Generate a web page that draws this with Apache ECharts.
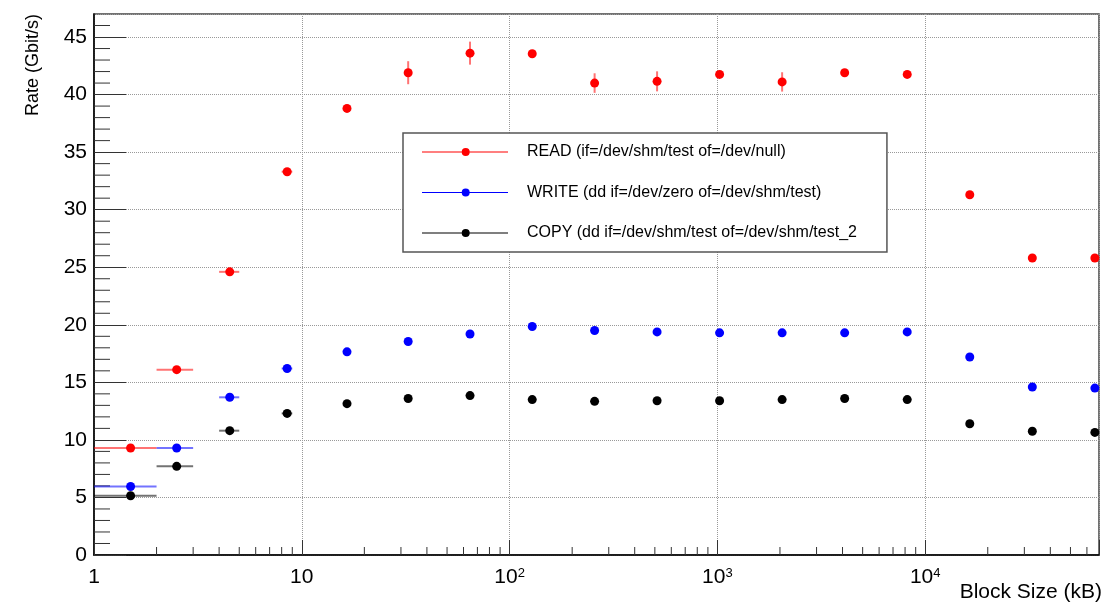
<!DOCTYPE html>
<html>
<head>
<meta charset="utf-8">
<script src="https://cdn.jsdelivr.net/npm/echarts@6/dist/echarts.min.js"></script>
<style>
html, body { margin: 0; background: #fff; }
#myChart { width: 1103px; height: 603px; }
</style>
</head>
<body>
<div id="myChart"></div>
<script>
// block size bin centres (kB), each bin is +-0.5 kB wide
var blockSize = [1.5, 2.5, 4.5, 8.5, 16.5, 32.5, 64.5, 128.5, 256.5, 512.5, 1024.5, 2048.5, 4096.5, 8192.5, 16384.5, 32768.5, 65536.5];
var binHalfWidth = 0.5;

var readRate  = [9.3, 16.1, 24.6, 33.3, 38.8, 41.9, 43.6, 43.55, 41.0, 41.15, 41.75, 41.1, 41.9, 41.75, 31.3, 25.8, 25.8];
var readErr   = [0, 0, 0, 0, 0, 1.0, 1.0, 0, 0.85, 0.87, 0, 0.84, 0, 0, 0, 0, 0];
var writeRate = [5.95, 9.3, 13.7, 16.2, 17.65, 18.55, 19.2, 19.85, 19.5, 19.38, 19.3, 19.3, 19.3, 19.38, 17.2, 14.6, 14.5];
var copyRate  = [5.15, 7.7, 10.8, 12.3, 13.15, 13.6, 13.85, 13.5, 13.35, 13.4, 13.4, 13.5, 13.6, 13.5, 11.4, 10.75, 10.65];

var seriesNames = [
  'READ (if=/dev/shm/test of=/dev/null)',
  'WRITE (dd if=/dev/zero of=/dev/shm/test)',
  'COPY (dd if=/dev/shm/test of=/dev/shm/test_2'
];
var decadeLabels = ['1', '10', '10{s|2}', '10{s|3}', '10{s|4}'];

var X_MAX = 68600, Y_MAX = 47;
var FONT = '"Liberation Sans", Arial, Helvetica, sans-serif';

// minor tick positions (ROOT style: 2..9 per decade, every 1 on y)
var xMinor = [];
for (var d = 1; d <= 10000; d *= 10) {
  for (var m = 2; m <= 9; m++) {
    if (m * d < X_MAX) xMinor.push([m * d]);
  }
}
var yMinor = [];
for (var v = 1; v < Y_MAX; v++) {
  if (v % 5 !== 0) yMinor.push([v]);
}

function errData(rate, err) {
  return blockSize.map(function (x, i) {
    return [x, rate[i], binHalfWidth, err ? err[i] : 0];
  });
}
function pointData(rate) {
  return blockSize.map(function (x, i) { return [x, rate[i]]; });
}

function renderErr(params, api) {
  var x = api.value(0), y = api.value(1), ex = api.value(2), ey = api.value(3);
  var l = api.coord([x - ex, y]), r = api.coord([x + ex, y]);
  var b = api.coord([x, y - ey]), t = api.coord([x, y + ey]);
  var style = { stroke: api.visual('color'), lineWidth: 2, opacity: 0.55 };
  return {
    type: 'group',
    children: [
      { type: 'line', shape: { x1: l[0], y1: l[1], x2: r[0], y2: r[1] }, style: style },
      { type: 'line', shape: { x1: b[0], y1: b[1], x2: t[0], y2: t[1] }, style: style }
    ]
  };
}

function errSeries(rate, err, color) {
  return {
    type: 'custom',
    renderItem: renderErr,
    data: errData(rate, err),
    encode: { x: 0, y: 1 },
    itemStyle: { color: color },
    silent: true,
    z: 2
  };
}
function pointSeries(name, rate, color) {
  return {
    name: name,
    type: 'scatter',
    data: pointData(rate),
    symbolSize: 9,
    itemStyle: { color: color, opacity: 1 },
    z: 3
  };
}

var chart = echarts.init(document.getElementById('myChart'));
var option = {
  animation: false,
  backgroundColor: '#fff',
  grid: { left: 94, right: 4, top: 14, bottom: 48, show: true, borderColor: '#444', borderWidth: 1.5 },
  legend: {
    orient: 'vertical',
    left: 403,
    top: 133,
    data: seriesNames,
    selectedMode: false,
    icon: 'path://M0,3.4L86,3.4L86,4.6L0,4.6Z M39.7,4A4,4 0 1 1 47.7,4A4,4 0 1 1 39.7,4Z',
    itemWidth: 86,
    itemHeight: 8,
    itemGap: 24.5,
    padding: [11, 30, 11, 19],
    backgroundColor: '#fff',
    borderColor: '#555',
    borderWidth: 1.5,
    textStyle: { fontSize: 16, fontFamily: FONT, color: '#000', width: 340, padding: [0, 0, 0, 14] }
  },
  xAxis: {
    type: 'log',
    logBase: 10,
    min: 1,
    max: X_MAX,
    axisLine: { lineStyle: { color: '#000', width: 1.5 } },
    axisTick: { inside: true, length: 15, lineStyle: { color: '#333' } },
    axisLabel: {
      margin: 12,
      fontSize: 21,
      fontFamily: FONT,
      color: '#000',
      formatter: function (val) {
        var e = Math.log10(val), k = Math.round(e);
        if (Math.abs(e - k) > 1e-6 || k < 0 || k >= decadeLabels.length) return '';
        return decadeLabels[k];
      },
      rich: { s: { fontSize: 13, fontFamily: FONT, color: '#000', verticalAlign: 'top' } }
    },
    splitLine: { show: true, lineStyle: { type: 'dotted', color: '#999', width: 1 } }
  },
  yAxis: {
    type: 'value',
    min: 0,
    max: Y_MAX,
    interval: 5,
    axisLine: { show: true, lineStyle: { color: '#000', width: 1.5 } },
    axisTick: { show: true, inside: true, length: 32, lineStyle: { color: '#333' } },
    axisLabel: { margin: 7, fontSize: 21, fontFamily: FONT, color: '#000', showMaxLabel: false },
    splitLine: { show: true, lineStyle: { type: 'dotted', color: '#999', width: 1 } }
  },
  graphic: [
    {
      type: 'text', x: 33, y: 14, rotation: Math.PI / 2,
      style: { text: 'Rate (Gbit/s)', font: '18px ' + FONT, fill: '#000', textAlign: 'right', textVerticalAlign: 'middle' }
    },
    {
      type: 'text', x: 1102, y: 592,
      style: { text: 'Block Size (kB)', font: '21px ' + FONT, fill: '#000', textAlign: 'right', textVerticalAlign: 'middle' }
    }
  ],
  series: [
    {
      type: 'custom',
      silent: true,
      data: xMinor,
      encode: { x: 0 },
      renderItem: function (params, api) {
        var p = api.coord([api.value(0), 0]);
        return { type: 'line', shape: { x1: p[0], y1: p[1], x2: p[0], y2: p[1] - 8 }, style: { stroke: '#333', lineWidth: 1 } };
      },
      z: 1
    },
    {
      type: 'custom',
      silent: true,
      data: yMinor,
      encode: { y: 0 },
      renderItem: function (params, api) {
        var p = api.coord([1, api.value(0)]);
        return { type: 'line', shape: { x1: p[0], y1: p[1], x2: p[0] + 16, y2: p[1] }, style: { stroke: '#333', lineWidth: 1 } };
      },
      z: 1
    },
    errSeries(readRate, readErr, '#ff0000'),
    errSeries(writeRate, null, '#0000ff'),
    errSeries(copyRate, null, '#000000'),
    pointSeries(seriesNames[0], readRate, '#ff0000'),
    pointSeries(seriesNames[1], writeRate, '#0000ff'),
    pointSeries(seriesNames[2], copyRate, '#000000')
  ]
};
chart.setOption(option);
</script>
</body>
</html>
